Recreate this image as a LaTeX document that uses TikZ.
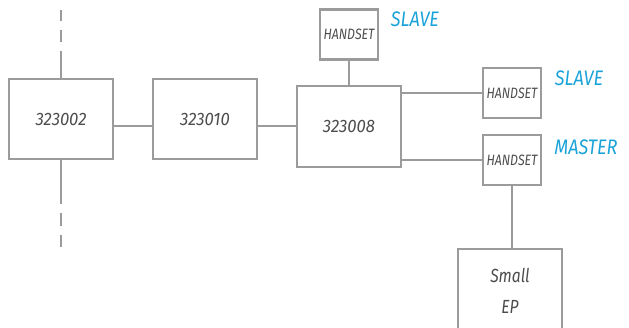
\documentclass[tikz,border=0pt]{standalone}
\usepackage{fontspec}
\newfontfamily\condfont[FakeStretch=0.82]{Fira Sans}
\newfontfamily\labfont[FakeStretch=0.86]{Fira Sans}
\newfontfamily\numfont[FakeStretch=0.93]{Fira Sans}
\definecolor{boxgray}{HTML}{9B9B9B}
\definecolor{txtgray}{HTML}{4D4D4D}
\definecolor{lblblue}{HTML}{1AA3D9}
\begin{document}
\begin{tikzpicture}[x=1pt,y=-1pt,
  unit/.style={draw=boxgray,line width=2.3pt,fill=white,inner sep=0pt,
    text=txtgray,font=\numfont\itshape\fontsize{18}{20}\selectfont,align=center},
  hs/.style={unit,minimum width=58pt,minimum height=50pt,
    font=\condfont\itshape\fontsize{15}{16}\selectfont},
  role/.style={text=lblblue,inner sep=0pt,
    font=\labfont\itshape\fontsize{21}{24}\selectfont},
  wire/.style={draw=boxgray,line width=2.3pt}]
\useasboundingbox (0,0) rectangle (629,328);
\clip (0,0) rectangle (629,328);
\node[unit,minimum width=104pt,minimum height=80pt] (a) at (61,119) {323002};
\node[unit,minimum width=104pt,minimum height=80pt] (b) at (205,119) {323010};
\node[unit,minimum width=104pt,minimum height=81pt] (c) at (349,126.5) {323008};
\node[hs] (h1) at (349,34.5) {HANDSET};
\node[hs] (h2) at (512,93) {HANDSET};
\node[hs] (h3) at (512,160) {HANDSET};
\node[unit,minimum width=104pt,minimum height=84pt,
  font=\condfont\itshape\fontsize{19}{31}\selectfont] (ep) at (510,291) {Small\\EP};
\node[role] (l1) at (415,19) {SLAVE};
\node[role] (l2) at (579,78) {SLAVE};
\node[role] (l3) at (586,147) {MASTER};
\coordinate (top) at (61,10);
\coordinate (bot) at (61,247);
\draw[wire,dash pattern=on 27pt off 9pt on 12pt off 9pt on 12pt] (a.north) -- (top);
\draw[wire,dash pattern=on 44pt off 9pt on 13pt off 9pt on 13pt] (a.south) -- (bot);
\draw[wire] (a.east |- 0,126) -- (b.west |- 0,126);
\draw[wire] (b.east |- 0,126) -- (c.west |- 0,126);
\draw[wire] (h1.south) -- (c.north);
\draw[wire] (c.east |- h2.west) -- (h2.west);
\draw[wire] (c.east |- h3.west) -- (h3.west);
\draw[wire] (h3.south) -- (ep.north -| h3.south);
\end{tikzpicture}
\end{document}
